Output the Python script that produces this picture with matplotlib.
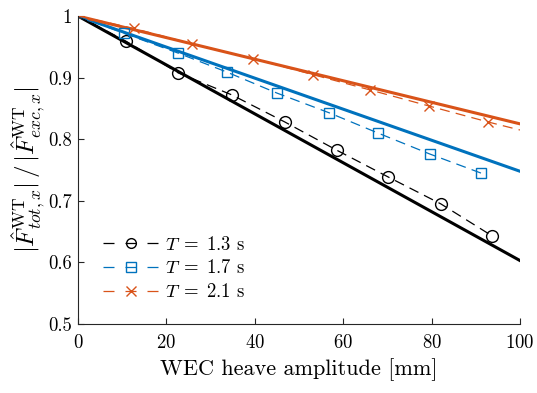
import matplotlib
matplotlib.use("Agg")
import matplotlib.pyplot as plt

plt.rcParams['font.family'] = 'serif'
plt.rcParams['font.serif'] = ['cmr10']
plt.rcParams['mathtext.fontset'] = 'cm'
plt.rcParams['axes.formatter.use_mathtext'] = True

# Solid (model) lines
x_model = [0, 100]
y_model_13 = [1.0, 0.603]
y_model_17 = [1.0, 0.748]
y_model_21 = [1.0, 0.825]

# Dashed (measured) series
x_13 = [0, 10.9, 22.6, 34.8, 46.8, 58.6, 70.1, 82.1, 93.7]
y_13 = [1.0, 0.959, 0.908, 0.872, 0.828, 0.782, 0.739, 0.695, 0.643]
x_17 = [0, 10.4, 22.6, 33.7, 45.0, 56.8, 67.9, 79.6, 91.2]
y_17 = [1.0, 0.972, 0.940, 0.909, 0.875, 0.843, 0.810, 0.776, 0.745]
x_21 = [0, 12.6, 25.8, 39.6, 53.1, 66.1, 79.4, 92.8, 100]
y_21 = [1.0, 0.980, 0.955, 0.931, 0.905, 0.880, 0.854, 0.828, 0.815]

labels = [r'$T\;=\;1.3$ s', r'$T\;=\;1.7$ s', r'$T\;=\;2.1$ s']
c_black = '#000000'
c_blue = '#0072BD'
c_orange = '#D95319'

fig = plt.figure(figsize=(5.37, 3.93), dpi=100)
ax = fig.add_axes([0.1453, 0.1756, 0.8230, 0.7835])

ax.plot(x_model, y_model_13, '-', color=c_black, lw=2.2)
ax.plot(x_model, y_model_17, '-', color=c_blue, lw=2.2)
ax.plot(x_model, y_model_21, '-', color=c_orange, lw=2.2)

dash = (8, 5)
ax.plot(x_13, y_13, '--', color=c_black, lw=0.9, marker='o', ms=8.5,
        mfc='none', mew=1.0, markevery=list(range(1, len(x_13))), label=labels[0], dashes=dash)
ax.plot(x_17, y_17, '--', color=c_blue, lw=0.9, marker='s', ms=7.5,
        mfc='none', mew=1.0, markevery=list(range(1, len(x_17))), label=labels[1], dashes=dash)
ax.plot(x_21, y_21, '--', color=c_orange, lw=0.9, marker='x', ms=6.5,
        mew=1.0, markevery=list(range(1, len(x_21) - 1)), label=labels[2], dashes=dash)

ax.set_xlim(0, 100)
ax.set_ylim(0.5, 1.0)
ax.set_xticks([0, 20, 40, 60, 80, 100])
ax.set_yticks([0.5, 0.6, 0.7, 0.8, 0.9, 1.0])
ax.set_yticklabels(['0.5', '0.6', '0.7', '0.8', '0.9', '1'])
ax.tick_params(direction='in', length=4, labelsize=13.5, color='#262626', labelcolor='black')
ax.tick_params(axis='x', pad=7)
ax.tick_params(axis='y', pad=4.5)
ax.spines['top'].set_visible(False)
ax.spines['right'].set_visible(False)
for s in ['left', 'bottom']:
    ax.spines[s].set_color('#262626')
    ax.spines[s].set_linewidth(0.8)

ax.set_xlabel('WEC heave amplitude [mm]', fontsize=16, labelpad=4.5)
ax.set_ylabel(r'$|\hat{F}^{\rm WT}_{tot,x}|\,/\,|\hat{F}^{\rm WT}_{exc,x}|$', fontsize=18, labelpad=1)

leg = ax.legend(loc='lower left', bbox_to_anchor=(0.04, 0.05), frameon=False,
                fontsize=13.5, handlelength=3.0, handletextpad=0.3, labelspacing=0.3,
                borderaxespad=0)
for h in leg.legend_handles:
    h.set_markersize(7)
    h.set_dashes((8.8, 8.8))

fig.savefig('out.png', dpi=100)
